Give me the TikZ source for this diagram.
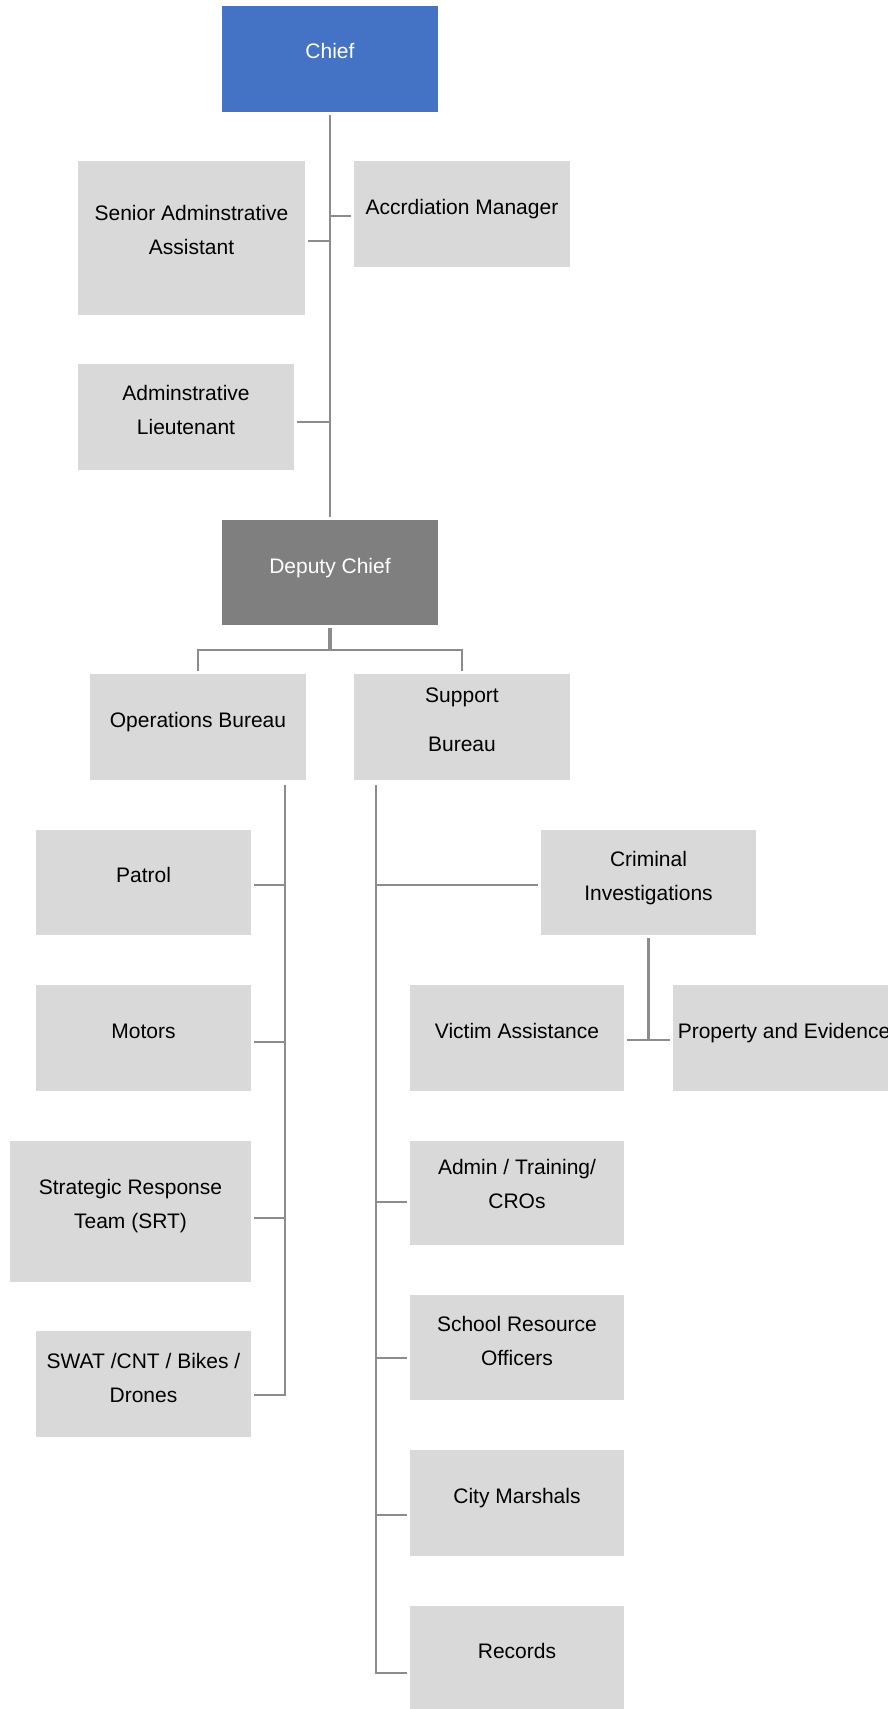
\documentclass[tikz,border=0pt]{standalone}
\usepackage{fontspec}
\setmainfont{Liberation Sans}
\usepackage{xcolor}
\usepackage{tikz}
\usetikzlibrary{positioning,calc}

\definecolor{chiefblue}{HTML}{4472C4}
\definecolor{deputygrey}{HTML}{7F7F7F}
\definecolor{boxgrey}{HTML}{D9D9D9}
\definecolor{linegrey}{HTML}{8C8C8C}

\begin{document}
\begin{tikzpicture}[x=1pt,y=-1pt,font=\fontsize{21}{34}\selectfont,
  box/.style={fill=boxgrey,inner xsep=0pt,inner ysep=0pt,outer sep=3pt,align=center,minimum width=216pt},
  hd/.style 2 args={text height=#1,text depth=#2},
  link/.style={draw=linegrey,line width=2.8pt}]
  \useasboundingbox (0,0) rectangle (888,1709);
  % top of the chart
  \node[box,fill=chiefblue,text=white,hd={52pt}{54pt}] (chief) at (330,59) {Chief};
  \node[box,minimum width=227pt,hd={93pt}{61pt}] (saa) at (191.5,238) {Senior Adminstrative\\Assistant};
  \node[box,hd={53pt}{53pt}] (accm) at (462,214) {Accrdiation Manager};
  \node[box,hd={70pt}{36pt}] (alt) at (186,417) {Adminstrative\\Lieutenant};
  \node[box,fill=deputygrey,text=white,hd={53pt}{52pt}] (deputy) at (330,572.5) {Deputy Chief};
  % bureaus
  \node[box,hd={53pt}{53pt}] (ops) at (198,727) {Operations Bureau};
  \node[box,hd={77pt}{29pt}] (sup) at (462,727) {Support\\[15pt]Bureau};
  % operations units
  \node[box,minimum width=215pt,hd={52pt}{53pt}] (patrol) at (143.5,882.5) {Patrol};
  \node[box,minimum width=215pt,hd={53pt}{53pt}] (motors) at (143.5,1038) {Motors};
  \node[box,minimum width=241pt,hd={87pt}{54pt}] (srt) at (130.5,1211.5) {Strategic Response\\Team (SRT)};
  \node[box,minimum width=215pt,hd={71pt}{35pt}] (swat) at (143.5,1384) {SWAT /CNT / Bikes /\\Drones};
  % support units
  \node[box,minimum width=215pt,hd={70pt}{35pt}] (crim) at (648.5,882.5) {Criminal\\Investigations};
  \node[box,minimum width=214pt,hd={53pt}{53pt}] (victim) at (517,1038) {Victim Assistance};
  \node[box,minimum width=222pt,hd={53pt}{53pt}] (prop) at (784,1038) {Property and Evidence};
  \node[box,minimum width=214pt,hd={67pt}{37pt}] (admin) at (517,1193) {Admin / Training/\\CROs};
  \node[box,minimum width=214pt,hd={70pt}{35pt}] (school) at (517,1347.5) {School Resource\\Officers};
  \node[box,minimum width=214pt,hd={53pt}{53pt}] (marshals) at (517,1503) {City Marshals};
  \node[box,minimum width=214pt,hd={52pt}{54pt}] (records) at (517,1659) {Records};

  \coordinate (split) at (330,650);
  \coordinate (opsbar) at (285,785);
  \coordinate (supbar) at (376,785);
  \coordinate (evsplit) at (648.5,1040);

  % connectors
  \draw[link] (chief) -- (deputy);
  \draw[link] ([yshift=-3pt]saa.east) -- ([yshift=-3pt]saa.east -| chief);
  \draw[link] ([yshift=-2pt]accm.west) -- ([yshift=-2pt]accm.west -| chief);
  \draw[link] ([yshift=-5pt]alt.east) -- ([yshift=-5pt]alt.east -| chief);
  \draw[link,line width=3.4pt] (deputy.south) -- (split);
  \draw[link] (ops.north) |- (split) -| (sup.north);
  \foreach \n/\s in {patrol/2.5,motors/4,srt/6.5,swat/11}
    \draw[link] (opsbar) |- ([yshift=-\s pt]\n.east);
  \foreach \n/\s in {crim/2.5,admin/9,school/10.5,marshals/12,records/14}
    \draw[link] (supbar) |- ([yshift=-\s pt]\n.west);
  \draw[link] (crim.south) -- (evsplit);
  \draw[link] (victim.east |- evsplit) -- (prop.west |- evsplit);
\end{tikzpicture}
\end{document}
